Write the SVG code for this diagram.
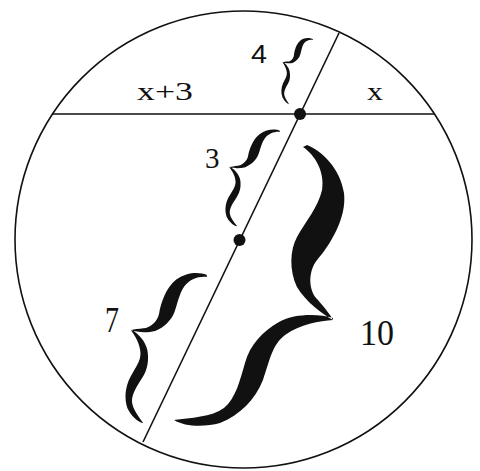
<svg xmlns="http://www.w3.org/2000/svg" width="480" height="471" viewBox="0 0 480 471">
<style>
.ln{fill:none;stroke:#111;stroke-width:1.6}
.br{fill:#111;stroke:none}
.t{font-family:"Liberation Serif","Times New Roman",serif;fill:#111}
.s{font-family:"Liberation Sans",Arial,sans-serif;fill:#111}
</style>
<defs>
<path id="brace" d="M-0.028,-1.022 C-0.191,-1.019 -0.429,-0.955 -0.573,-0.808 C-0.708,-0.659 -0.668,-0.451 -0.614,-0.327 C-0.578,-0.223 -0.678,-0.109 -0.794,-0.080 C-0.879,-0.050 -0.964,-0.020 -1.018,0.010 C-0.891,-0.002 -0.693,-0.040 -0.546,-0.112 C-0.400,-0.200 -0.323,-0.327 -0.332,-0.424 C-0.340,-0.537 -0.399,-0.654 -0.359,-0.776 C-0.309,-0.895 -0.144,-0.978 0,-1 Z M-1.009,-0.002 C-0.873,0.003 -0.640,0.054 -0.532,0.148 C-0.419,0.249 -0.365,0.358 -0.396,0.482 C-0.424,0.600 -0.464,0.721 -0.397,0.812 C-0.326,0.896 -0.129,0.953 0.009,1.002 C-0.122,1.021 -0.305,0.974 -0.425,0.915 C-0.574,0.818 -0.647,0.690 -0.634,0.547 C-0.612,0.406 -0.566,0.307 -0.643,0.215 C-0.733,0.112 -0.903,0.047 -1.018,0.010 Z"/>
</defs>
<rect width="480" height="471" fill="#fff"/>
<g id="circle"><circle class="ln" cx="243.5" cy="239.5" r="228.5" stroke-width="1.8"/></g>
<g id="chords">
<line class="ln" x1="52" y1="114" x2="435" y2="114"/>
<line class="ln" x1="339" y1="33" x2="143" y2="442"/>
</g>
<g id="points">
<circle cx="300" cy="114" r="6" fill="#111"/>
<circle cx="239.5" cy="240" r="6" fill="#111"/>
</g>
<g id="braces">
<use href="#brace" class="br" transform="matrix(18,10,-12,32,301,72)"/>
<use href="#brace" class="br" transform="matrix(28.5,12,-21.5,47,258.5,179)"/>
<use href="#brace" class="br" transform="matrix(43,20,-32,73,175,350)"/>
<use href="#brace" class="br" transform="matrix(-93,-34.5,-64,136.5,239,283.5)"/>
</g>
<g id="labels">
<text class="t" x="137" y="100" font-size="26" textLength="56" lengthAdjust="spacingAndGlyphs">x+3</text>
<text class="t" x="367" y="100" font-size="26" textLength="16" lengthAdjust="spacingAndGlyphs">x</text>
<text class="s" x="251" y="63" font-size="25" textLength="16" lengthAdjust="spacingAndGlyphs">4</text>
<text class="t" x="205" y="168" font-size="29">3</text>
<text class="t" x="105" y="332" font-size="36" textLength="14" lengthAdjust="spacingAndGlyphs">7</text>
<text class="t" x="360" y="345" font-size="36" textLength="34" lengthAdjust="spacingAndGlyphs">10</text>
</g>
</svg>
